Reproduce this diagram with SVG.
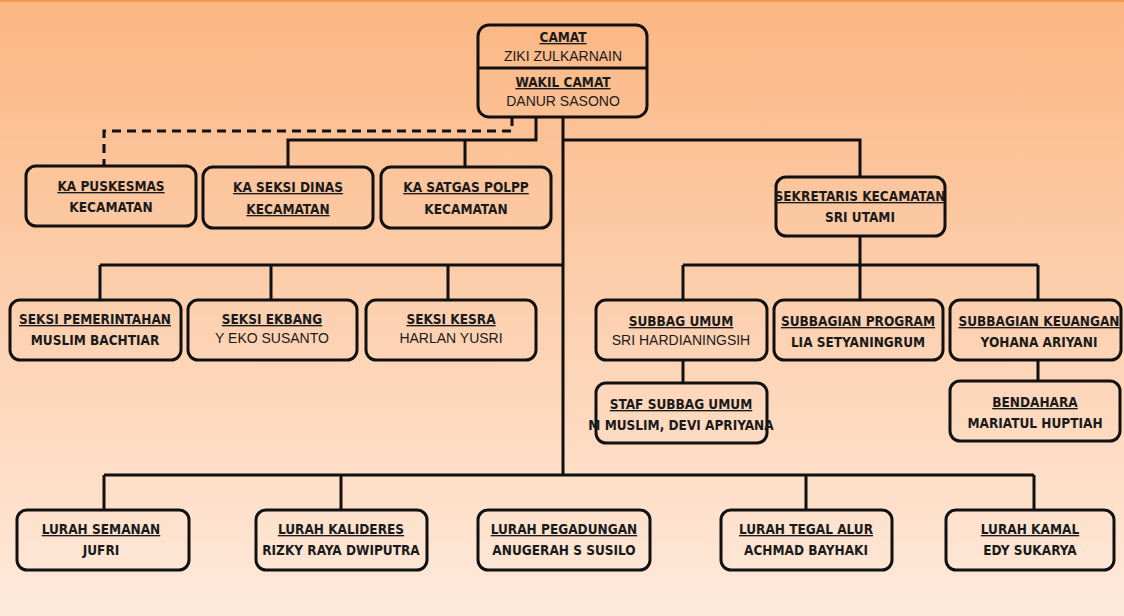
<svg xmlns="http://www.w3.org/2000/svg" width="1124" height="616" viewBox="0 0 1124 616">
<defs>
<linearGradient id="bg" x1="0" y1="0" x2="0" y2="1">
<stop offset="0" stop-color="#fbb683"/>
<stop offset="1" stop-color="#feeadb"/>
</linearGradient>
<style>
.b{fill:none;stroke:#111;stroke-width:3}
.c{fill:none;stroke:#111;stroke-width:3}
.d{stroke-dasharray:9 6}
text{font-family:"DejaVu Sans Condensed","Liberation Sans Narrow","Roboto Condensed",sans-serif;font-stretch:condensed;font-weight:bold;font-size:13.5px;fill:#1a1a1a;text-anchor:middle}
.t{text-decoration:underline}
.n{font-family:"Liberation Sans","Roboto",sans-serif;font-weight:normal;font-size:14px;font-stretch:normal}
</style>
</defs>
<rect width="1124" height="616" fill="url(#bg)"/>
<rect width="1124" height="2" fill="#f29a4e"/>
<g id="connectors">
<path class="c d" d="M512 117V131H104V165"/>
<path class="c" d="M536 117V140H288V167M465 140V167"/>
<path class="c" d="M563 117V475M563 140H860V177"/>
<path class="c" d="M860 236V265M683 265H1038M683 265V300M860 265V300M1038 265V300"/>
<path class="c" d="M100 265H563M100 265V300M271 265V300M448 265V300"/>
<path class="c" d="M683 360V383M1038 360V381"/>
<path class="c" d="M104 475H1034M104 475V510M341 475V510M806 475V510M1034 475V510"/>
</g>
<g id="camat"><rect class="b" x="478" y="25" width="169" height="92" rx="11"/><path class="c" d="M478 68H647"/>
<text x="563" y="42" class="t">CAMAT</text><text x="563" y="61" class="n">ZIKI ZULKARNAIN</text>
<text x="563" y="87" class="t">WAKIL CAMAT</text><text x="563" y="106" class="n">DANUR SASONO</text></g>
<g id="puskesmas"><rect class="b" x="26" y="166" width="170" height="60" rx="10"/><text x="111" y="191" class="t">KA PUSKESMAS</text><text x="111" y="212">KECAMATAN</text></g>
<g id="seksidinas"><rect class="b" x="203" y="167" width="170" height="61" rx="10"/><text x="288" y="192" class="t">KA SEKSI DINAS</text><text x="288" y="214" class="t">KECAMATAN</text></g>
<g id="satgas"><rect class="b" x="381" y="167" width="170" height="61" rx="10"/><text x="466" y="192" class="t">KA SATGAS POLPP</text><text x="466" y="214">KECAMATAN</text></g>
<g id="sekretaris"><rect class="b" x="776" y="177" width="169" height="59" rx="10"/><text x="860" y="201" class="t">SEKRETARIS KECAMATAN</text><text x="860" y="222">SRI UTAMI</text></g>
<g id="pemerintahan"><rect class="b" x="10" y="300" width="171" height="60" rx="10"/><text x="95" y="324" class="t">SEKSI PEMERINTAHAN</text><text x="95" y="345">MUSLIM BACHTIAR</text></g>
<g id="ekbang"><rect class="b" x="188" y="300" width="169" height="60" rx="10"/><text x="272" y="324" class="t">SEKSI EKBANG</text><text x="272" y="343" class="n">Y EKO SUSANTO</text></g>
<g id="kesra"><rect class="b" x="366" y="300" width="170" height="60" rx="10"/><text x="451" y="324" class="t">SEKSI KESRA</text><text x="451" y="343" class="n">HARLAN YUSRI</text></g>
<g id="umum"><rect class="b" x="596" y="300" width="171" height="60" rx="10"/><text x="681" y="326" class="t">SUBBAG UMUM</text><text x="681" y="345" class="n">SRI HARDIANINGSIH</text></g>
<g id="program"><rect class="b" x="774" y="300" width="169" height="60" rx="10"/><text x="858" y="326" class="t">SUBBAGIAN PROGRAM</text><text x="858" y="347">LIA SETYANINGRUM</text></g>
<g id="keuangan"><rect class="b" x="950" y="300" width="171" height="60" rx="10"/><text x="1039" y="326" class="t">SUBBAGIAN KEUANGAN</text><text x="1039" y="347">YOHANA ARIYANI</text></g>
<g id="staf"><rect class="b" x="596" y="383" width="171" height="60" rx="10"/><text x="681" y="409" class="t">STAF SUBBAG UMUM</text><text x="681" y="430">M MUSLIM, DEVI APRIYANA</text></g>
<g id="bendahara"><rect class="b" x="950" y="381" width="170" height="60" rx="10"/><text x="1035" y="407" class="t">BENDAHARA</text><text x="1035" y="428">MARIATUL HUPTIAH</text></g>
<g id="semanan"><rect class="b" x="17" y="510" width="172" height="60" rx="10"/><text x="101" y="534" class="t">LURAH SEMANAN</text><text x="101" y="555">JUFRI</text></g>
<g id="kalideres"><rect class="b" x="256" y="510" width="171" height="60" rx="10"/><text x="341" y="534" class="t">LURAH KALIDERES</text><text x="341" y="555">RIZKY RAYA DWIPUTRA</text></g>
<g id="pegadungan"><rect class="b" x="478" y="510" width="172" height="60" rx="10"/><text x="564" y="534" class="t">LURAH PEGADUNGAN</text><text x="564" y="555">ANUGERAH S SUSILO</text></g>
<g id="tegalalur"><rect class="b" x="721" y="510" width="171" height="60" rx="10"/><text x="806" y="534" class="t">LURAH TEGAL ALUR</text><text x="806" y="555">ACHMAD BAYHAKI</text></g>
<g id="kamal"><rect class="b" x="946" y="510" width="168" height="60" rx="10"/><text x="1030" y="534" class="t">LURAH KAMAL</text><text x="1030" y="555">EDY SUKARYA</text></g>
</svg>
